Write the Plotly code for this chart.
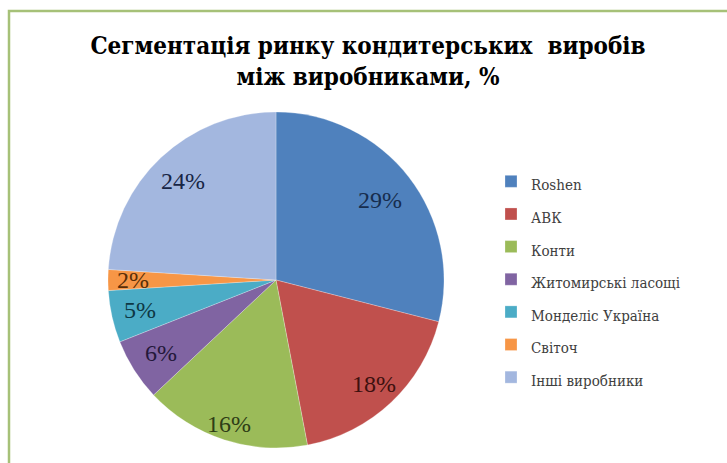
import math
import plotly.graph_objects as go

labels = ["Roshen", "АВК", "Конти", "Житомирські ласощі", "Монделіс Україна", "Світоч", "Інші виробники"]
values = [29, 18, 16, 6, 5, 2, 24]
colors = ["#4F81BD", "#C0504D", "#9BBB59", "#8064A2", "#4BACC6", "#F79646", "#A3B7DF"]
text_colors = ["#172D4E", "#3D100F", "#2E3D16", "#24183A", "#0E3844", "#5A2F08", "#172545"]
title_lines = ["Сегментація ринку кондитерських  виробів", "між виробниками, %"]

SERIF = "Liberation Serif"
CYR_SERIF = "DejaVu Serif Condensed, DejaVu Serif, serif"
W, H = 727, 463
cx, cy, R = 276, 280, 168
label_r = [0.78, 0.85, 0.90, 0.81, 0.83, 0.85, 0.81]

legend_labels = ['<span style="font-size:15px">%s</span>' % s for s in labels]

fig = go.Figure(go.Pie(
    labels=legend_labels,
    values=values,
    sort=False,
    direction="clockwise",
    rotation=0,
    marker=dict(colors=colors, line=dict(color="rgba(255,255,255,0.5)", width=0.5)),
    textinfo="none",
    hoverinfo="label+percent",
    domain=dict(x=[(cx - R) / W, (cx + R) / W], y=[1 - (cy + R) / H, 1 - (cy - R) / H]),
))

total = sum(values)
annotations = []
cum = 0
for v, tc, fr in zip(values, text_colors, label_r):
    theta = 2 * math.pi * (cum + v / 2) / total
    cum += v
    px = cx + fr * R * math.sin(theta)
    py = cy - fr * R * math.cos(theta)
    annotations.append(dict(
        x=px / W, y=1 - py / H, xref="paper", yref="paper",
        text="%d%%" % v, showarrow=False,
        xanchor="center", yanchor="middle",
        font=dict(family=SERIF, size=24, color=tc),
    ))

fig.update_layout(
    width=W, height=H,
    margin=dict(l=0, r=0, t=0, b=0),
    paper_bgcolor="white",
    plot_bgcolor="white",
    title=dict(
        text="<br>".join(title_lines),
        font=dict(family=CYR_SERIF, size=24, color="#000000", weight="bold"),
        x=368 / W, xanchor="center",
        yref="container", y=1 - 54 / H, yanchor="top",
    ),
    legend=dict(
        x=491 / W, xanchor="left",
        y=1 - 160 / H, yanchor="top",
        font=dict(family=CYR_SERIF, size=22.8, color="#404040"),
        bgcolor="rgba(0,0,0,0)",
    ),
    annotations=annotations,
    shapes=[dict(
        type="rect", xref="paper", yref="paper",
        x0=9 / W, x1=1.05, y0=-0.05, y1=1 - 11 / H,
        line=dict(color="#A6C178", width=2.5),
        fillcolor="rgba(0,0,0,0)",
    )],
)

fig.write_html("out.html")
